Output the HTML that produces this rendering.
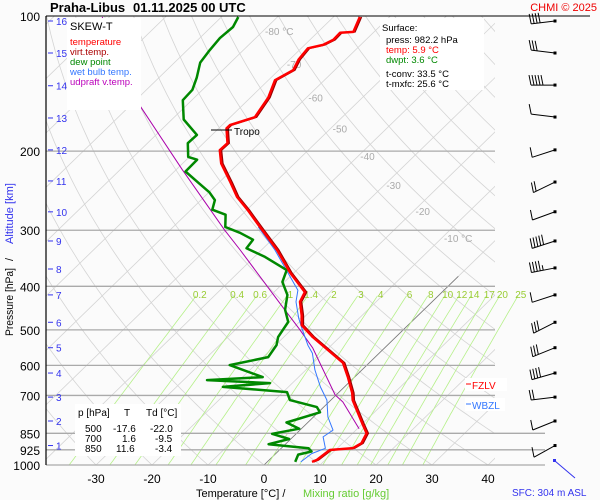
<!DOCTYPE html>
<html><head><meta charset="utf-8"><style>
html,body{margin:0;padding:0;background:#fbfbfb;}
svg{display:block;font-family:"Liberation Sans",sans-serif;}
</style></head><body>
<svg id="chart" width="600" height="500" viewBox="0 0 600 500" xmlns="http://www.w3.org/2000/svg">
<defs><clipPath id="plotclip"><rect x="46" y="16" width="449" height="449"/></clipPath>
<clipPath id="lowclip"><rect x="46" y="16" width="499" height="449"/></clipPath></defs>
<rect x="0" y="0" width="600" height="500" fill="#fbfbfb"/>
<g id="grid"></g>
<g id="series"></g>
<g id="axes"></g>
<g id="barbs"></g>

<g>
<text x="50" y="12" font-size="13" font-weight="bold" fill="#000">Praha-Libus</text>
<text x="133" y="12" font-size="13" font-weight="bold" fill="#000">01.11.2025 00 UTC</text>
</g>
<text x="597" y="11" font-size="11" fill="#e00" text-anchor="end">CHMI © 2025</text>
<line x1="46" y1="16" x2="590" y2="16" stroke="#000" stroke-width="1"/>

<g>
<rect x="67" y="18" width="74" height="92" fill="#fff"/>
<text x="70" y="30" font-size="11" fill="#000">SKEW-T</text>
<text x="70" y="45" font-size="9.5" fill="#f00">temperature</text>
<text x="70" y="55" font-size="9.5" fill="#a00">virt.temp.</text>
<text x="70" y="65" font-size="9.5" fill="#080">dew point</text>
<text x="70" y="75" font-size="9.5" fill="#37f">wet bulb temp.</text>
<text x="70" y="85" font-size="9.5" fill="#b0b">udpraft v.temp.</text>
</g>

<g>
<rect x="380" y="18" width="104" height="72" fill="#fff"/>
<text x="382" y="31" font-size="9.5" fill="#000">Surface:</text>
<text x="386" y="43" font-size="9.5" fill="#000">press: 982.2 hPa</text>
<text x="386" y="53" font-size="9.5" fill="#f00">temp: 5.9 °C</text>
<text x="386" y="63" font-size="9.5" fill="#080">dwpt: 3.6 °C</text>
<text x="386" y="77" font-size="9.5" fill="#000">t-conv: 33.5 °C</text>
<text x="386" y="87" font-size="9.5" fill="#000">t-mxfc: 25.6 °C</text>
</g>

<g>
<rect x="75" y="404" width="106" height="52" fill="#fff"/>
<text x="78" y="416" font-size="10" fill="#000">p [hPa]</text><text x="124" y="416" font-size="10" fill="#000">T</text><text x="146" y="416" font-size="10" fill="#000">Td [°C]</text>
<text x="85" y="432" font-size="10" fill="#000">500</text><text x="113" y="432" font-size="10" fill="#000">-17.6</text><text x="150" y="432" font-size="10" fill="#000">-22.0</text>
<text x="85" y="442" font-size="10" fill="#000">700</text><text x="122" y="442" font-size="10" fill="#000">1.6</text><text x="155" y="442" font-size="10" fill="#000">-9.5</text>
<text x="85" y="452" font-size="10" fill="#000">850</text><text x="116" y="452" font-size="10" fill="#000">11.6</text><text x="155" y="452" font-size="10" fill="#000">-3.4</text>
</g>

<g><rect x="465" y="378" width="42" height="13" fill="#fff"/><line x1="466" y1="384" x2="471" y2="384" stroke="#f00"/><text x="472" y="389" font-size="10" fill="#f00">FZLV</text></g>
<g><rect x="465" y="398" width="40" height="13" fill="#fff"/><line x1="466" y1="404" x2="471" y2="404" stroke="#37f"/><text x="472" y="409" font-size="10" fill="#37f">WBZL</text></g>

<g><line x1="211" y1="130" x2="232" y2="130" stroke="#000" stroke-width="1"/><text x="234" y="135" font-size="10" fill="#000">Tropo</text></g>

<text x="196" y="497" font-size="11" fill="#000">Temperature [°C]  /</text>
<text x="303" y="497" font-size="11" fill="#6c3">Mixing ratio [g/kg]</text>
<text x="512" y="496" font-size="10" fill="#33e">SFC: 304 m ASL</text>
<g transform="translate(13,250) rotate(-90)">
<text x="-86" y="0" font-size="11" fill="#000" textLength="68" lengthAdjust="spacingAndGlyphs">Pressure [hPa]</text>
<text x="-11" y="0" font-size="11" fill="#000">/</text>
<text x="6" y="0" font-size="11" fill="#33e" textLength="61" lengthAdjust="spacingAndGlyphs">Altitude [km]</text>
</g>
</svg>
<script>
const NS="http://www.w3.org/2000/svg";
// ---- data ----
const tempP=[100.5,108.5,109,113,116,118,125,132,139,152,168,175,178,192,199,213,235,253,270,295,332,373,412,433,464,488,519,592,637,691,717,808,850,894,917,926,974,984];
const tempT=[-65.3,-63.7,-65.9,-65.8,-66.7,-68.8,-68.4,-67.4,-68.8,-66.8,-65.6,-68.6,-68.6,-65.7,-65.8,-63.1,-57.9,-54.1,-49.9,-44.5,-37.2,-30.7,-24.5,-23.6,-20.8,-19.0,-14.8,-4.7,-1.2,2.5,3.9,9.9,12.5,13.4,12.8,9.0,8.5,8.0];
const dewP=[100.5,105.8,112,119,127,137,146,154,170,184,192,206,209,222,234,247,257,270,277,295,304,315,329,344,368,391,418,451,480,519,541,575,599,637,647,657,670,688,717,743,763,804,830,852,875,899,918,933,948,984];
const dewT=[-87.0,-86.1,-86.4,-86.0,-85.4,-83.3,-81.8,-81.6,-77.9,-72.7,-72.8,-70.2,-68.1,-68.0,-64.0,-59.9,-57.5,-56.2,-52.9,-50.7,-47.0,-43.4,-43.0,-38.1,-31.8,-30.4,-27.1,-24.8,-22.0,-21.0,-19.8,-19.1,-24.5,-16.4,-25.8,-14.0,-21.7,-9.3,-7.3,-1.2,0.3,-3.8,-0.4,-4.3,-0.3,-3.0,4.9,6.0,4.2,5.0];
const wetP=[295,332,373,408,433,471,500,541,564,614,670,717,782,836,866,918,943,984];
const wetT=[-44.8,-37.6,-31.1,-26.1,-24.3,-20.8,-18.0,-14.2,-11.9,-8.4,-4.3,-0.7,2.6,5.9,5.4,7.9,6.4,6.0];
const parcelP=[100.5,158,220,300,332,445,497,549,698,724,830];
const parcelT=[-111.3,-88.4,-68.9,-50.2,-43.8,-25.7,-18.8,-12.8,-0.2,2.5,10.3];
const pressureTicks=[100,200,300,400,500,600,700,850,925,1000];
const tempTicks=[-30,-20,-10,0,10,20,30,40];
const isothermLabels=[-80,-70,-60,-50,-40,-30,-20,-10];
const mixRatios=[0.2,0.4,0.6,1,1.4,2,3,4,6,8,10,12,14,17,20,25];
const altKm=[1,2,3,4,5,6,7,8,9,10,11,12,13,14,15,16];
const altP=[905,798,706,624,548,481,418,366,317,273,233,198.7,168.7,143,120.9,102.6];
const barbP=[102.6,120.9,142.5,167.9,198.7,234.3,272.9,317,364,418,481,548,624,706,798,905];
const barbSpeed=[40,30,50,10,10,20,10,50,45,10,30,30,40,20,10,10];
const barbTilt=[7,-7,0,-7,18,26,20,18,11,18,27,22,16,7,22,29];

// ---- axis functions ----
function yP(p){return 16+449*Math.log10(p/100);}
function xT(T,p){return 264+5.6*T+1.03*(465-yP(p));}
function mk(tag,attrs,parent){const e=document.createElementNS(NS,tag);for(const k in attrs)e.setAttribute(k,attrs[k]);parent.appendChild(e);return e;}
const grid=document.getElementById('grid'),series=document.getElementById('series'),axes=document.getElementById('axes'),barbs=document.getElementById('barbs');
const gclip=mk('g',{'clip-path':'url(#plotclip)'},grid);

for(let T=-160;T<=60;T+=10){
 const l=mk('line',{x1:xT(T,1000),y1:yP(1000),x2:xT(T,100),y2:yP(100),stroke:'#d4d4d4','stroke-width':0.8},gclip);
 
 
}
for(let th=-40;th<=220;th+=10){
 let d='';
 for(let p=1000;p>=100;p-=10){const T=(th+273.15)*Math.pow(p/1000,0.286)-273.15;d+=(d?'L':'M')+xT(T,p).toFixed(1)+','+yP(p).toFixed(1);}
 const a=mk('path',{d:d,fill:'none',stroke:'#d4d4d4','stroke-width':0.8},gclip);
 
 
}
function tdFromW(w,p){const e=w*p/(622+w);const L=Math.log(e/6.112);return 243.5*L/(17.67-L);}
const mclip=mk('g',{'clip-path':'url(#lowclip)'},grid);
mixRatios.forEach(w=>{
 let d='';
 for(let p=1000;p>=420;p-=10){d+=(d?'L':'M')+xT(tdFromW(w,p),p).toFixed(1)+','+yP(p).toFixed(1);}
 const m=mk('path',{d:d,fill:'none',stroke:'#b6f08a','stroke-width':0.8},mclip);
 
 
 const t=mk('text',{x:xT(tdFromW(w,410),410),y:298,'font-size':10,fill:'#9c3','text-anchor':'middle'},grid);
 t.textContent=String(w);
 
 
});
pressureTicks.forEach(p=>{
 if(p===100)return;
 const x2=p>=850?545:495;
 const l=mk('line',{x1:46,y1:yP(p),x2:x2,y2:yP(p),stroke:'#aaa','stroke-width':1.3},grid);
 
 
});
const z=mk('line',{x1:xT(0,1000),y1:yP(1000),x2:xT(0,380),y2:yP(380),stroke:'#777','stroke-width':0.8},gclip);


isothermLabels.forEach((T,i)=>{
 const pl=[108,128,152,178,205,238,272,312][i];
 const t=mk('text',{x:xT(T,pl)+2,y:yP(pl)+4,'font-size':10,fill:'#aaa'},grid);
 t.textContent=(T===-80||T===-10)?T+' °C':String(T);
 
 
});

function line(P,T,color,w,name){
 let d='';P.forEach((p,i)=>{d+=(i?'L':'M')+xT(T[i],p).toFixed(1)+','+yP(p).toFixed(1);});
 const e=mk('path',{d:d,fill:'none',stroke:color,'stroke-width':w,'stroke-linejoin':'round'},series);
 
 
}
line(parcelP,parcelT,'#a0a',1,'updraft-line');
line(tempP,tempT.map(t=>t+0.3),'#900',1.5,'virtual-temperature-line');
line(wetP,wetT,'#37f',1,'wet-bulb-line');
line(dewP,dewT,'#080',2.5,'dew-point-line');
line(tempP,tempT,'#f00',2.5,'temperature-line');

mk('line',{x1:46,y1:16,x2:46,y2:465,stroke:'#000','stroke-width':1.2},axes);
pressureTicks.forEach(p=>{
 const t=mk('text',{x:40,y:yP(p)+5,'font-size':12,fill:'#000','text-anchor':'end'},axes);
 t.textContent=String(p);
 
 
});
tempTicks.forEach(T=>{
 const t=mk('text',{x:xT(T,1000),y:483,'font-size':12,fill:'#000','text-anchor':'middle'},axes);
 t.textContent=String(T);
 
 
});
altKm.forEach((k,i)=>{
 const y=yP(altP[i]);
 mk('line',{x1:48,y1:y,x2:53,y2:y,stroke:'#33e','stroke-width':1},axes);
 const t=mk('text',{x:56,y:y+4,'font-size':10,fill:'#33e'},axes);
 t.textContent=String(k);
 
 
});

barbP.forEach((p,i)=>{
 const y=yP(p), x0=555, L=24, a=barbTilt[i]*Math.PI/180;
 const x1=x0-L*Math.cos(a), y1=y+L*Math.sin(a);
 const g=mk('g',{},barbs);
 
 
 mk('line',{x1:x0,y1:y,x2:x1,y2:y1,stroke:'#000','stroke-width':1},g);
 mk('rect',{x:x0-1.5,y:y-1.5,width:3,height:3,fill:'#000'},g);
 let s=barbSpeed[i],k=0;
 while(s>=10){const bx=x1+k*3*Math.cos(a),by=y1-k*3*Math.sin(a);mk('line',{x1:bx,y1:by,x2:bx-2,y2:by-10,stroke:'#000','stroke-width':1},g);s-=10;k++;}
 if(s>=5){const bx=x1+k*3*Math.cos(a),by=y1-k*3*Math.sin(a);mk('line',{x1:bx,y1:by,x2:bx-1,y2:by-5,stroke:'#000','stroke-width':1},g);}
});
const sw=mk('line',{x1:555,y1:461,x2:575,y2:478,stroke:'#33e','stroke-width':1},barbs);


mk('rect',{x:553,y:459,width:3,height:3,fill:'#33e'},barbs);
</script>
</body></html>
